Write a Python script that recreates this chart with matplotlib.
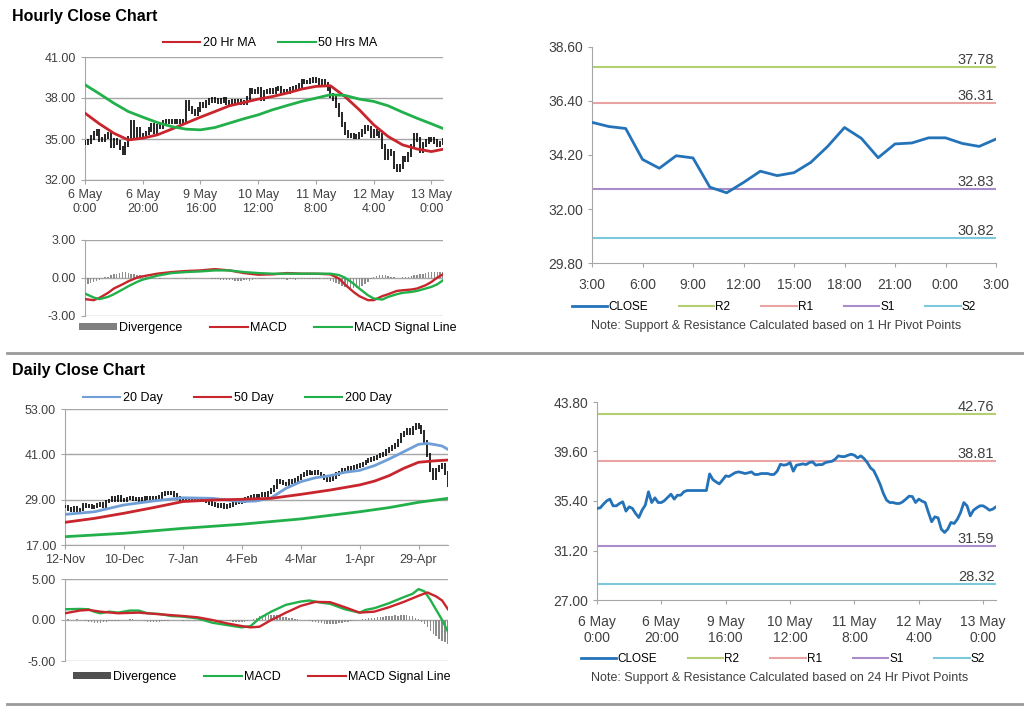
import matplotlib
matplotlib.use("Agg")
import matplotlib.pyplot as plt
from matplotlib.patches import Patch
from matplotlib.lines import Line2D
import numpy as np

plt.rcParams['font.family'] = ['Liberation Sans', 'DejaVu Sans']

# ---------------- hourly data ----------------
hourly_ticks = ["6 May\n0:00", "6 May\n20:00", "9 May\n16:00", "10 May\n12:00",
                "11 May\n8:00", "12 May\n4:00", "13 May\n0:00"]
hourly_close = [34.77, 34.82, 35.13, 35.41, 35.56, 34.99, 34.99, 35.19, 35.33, 34.54,
                34.91, 34.77, 34.34, 34.00, 34.62, 35.05, 36.18, 35.27, 35.67, 35.27,
                35.27, 35.44, 35.72, 35.98, 35.56, 35.89, 35.89, 36.18, 36.29, 36.29,
                36.29, 36.29, 36.29, 36.29, 36.29, 37.70, 37.22, 37.02, 36.85, 37.17,
                37.53, 37.48, 37.65, 37.81, 37.87, 37.81, 37.73, 37.79, 37.87, 37.65,
                37.65, 37.73, 37.73, 37.73, 37.65, 37.65, 37.93, 38.52, 38.44, 38.49,
                38.66, 37.93, 38.44, 38.49, 38.55, 38.49, 38.66, 38.72, 38.44, 38.49,
                38.49, 38.66, 38.72, 38.77, 38.94, 39.23, 39.17, 39.17, 39.28, 39.37,
                39.28, 39.06, 39.23, 39.00, 38.66, 38.21, 37.98, 37.42, 36.80, 36.04,
                35.47, 35.27, 35.27, 35.19, 35.19, 35.33, 35.56, 35.81, 35.78, 35.27,
                35.56, 35.39, 35.27, 34.43, 33.64, 34.06, 33.97, 33.01, 32.73, 33.01,
                33.58, 33.49, 33.86, 34.43, 35.27, 34.99, 34.14, 34.62, 34.82, 34.99,
                34.99, 34.82, 34.62, 34.71, 34.91]

ma_idx = [0, 5, 10, 15, 20, 25, 30, 35, 40, 45, 50, 55, 60, 65, 70, 75, 80, 85,
          90, 95, 100, 105, 110, 115, 120, 124]
ma20_hr = [36.89, 36.11, 35.42, 34.93, 35.06, 35.30, 35.72, 36.16, 36.60, 37.01,
           37.43, 37.67, 37.92, 38.11, 38.36, 38.65, 38.85, 38.90, 38.11, 37.14,
           36.04, 35.18, 34.57, 34.27, 34.08, 34.25]
ma50_hr = [38.97, 38.31, 37.62, 37.01, 36.60, 36.21, 35.91, 35.72, 35.67, 35.84,
           36.16, 36.48, 36.77, 37.14, 37.45, 37.75, 37.99, 38.24, 38.19, 37.92,
           37.75, 37.43, 36.96, 36.52, 36.11, 35.77]

macd_hr_idx = [0, 3, 5, 8, 10, 13, 15, 18, 20, 25, 30, 35, 40, 45, 50, 55, 60, 65,
               70, 75, 80, 85, 88, 90, 93, 95, 98, 100, 103, 105, 108, 110, 113,
               115, 118, 120, 122, 124]
macd_hr = [-1.67, -1.75, -1.57, -1.17, -0.83, -0.50, -0.26, 0.03, 0.13, 0.34, 0.47,
           0.55, 0.60, 0.70, 0.60, 0.39, 0.26, 0.29, 0.39, 0.34, 0.34, 0.29, -0.05,
           -0.50, -1.10, -1.43, -1.75, -1.75, -1.43, -1.28, -1.02, -0.97, -0.91,
           -0.83, -0.57, -0.31, 0.03, 0.29]
signal_hr = [-1.23, -1.54, -1.67, -1.49, -1.28, -0.91, -0.65, -0.31, -0.13, 0.18,
             0.39, 0.47, 0.52, 0.60, 0.60, 0.47, 0.39, 0.34, 0.34, 0.34, 0.34, 0.34,
             0.23, 0.03, -0.44, -0.83, -1.36, -1.62, -1.70, -1.49, -1.28, -1.17,
             -1.10, -1.02, -0.83, -0.70, -0.50, -0.18]
diverg_hr = [-0.5, -0.45, -0.4, -0.3, -0.2, -0.15, -0.1, 0.05, 0.1, 0.2,
             0.3, 0.35, 0.4, 0.45, 0.45, 0.4, 0.35, 0.3, 0.25, 0.2,
             0.15, 0.1, 0.05, 0.05, 0.0, 0.0, -0.05, 0.0, 0.02, 0.0,
             0.0, -0.05, -0.05, 0.0, 0.0, -0.1, 0.0, 0.02, 0.0, -0.02,
             0.0, 0.0, 0.02, 0.0, -0.05, -0.1, -0.1, -0.12, -0.15, -0.15,
             -0.12, -0.15, -0.2, -0.2, -0.2, -0.18, -0.15, -0.2, -0.15, -0.1,
             -0.1, -0.1, -0.05, 0.0, 0.02, 0.0, -0.05, -0.1, -0.1, -0.1,
             -0.12, -0.1, -0.1, -0.12, -0.1, -0.1, -0.1, -0.08, -0.1, -0.05,
             -0.05, -0.05, 0.0, -0.05, -0.1, -0.2, -0.3, -0.4, -0.5, -0.6,
             -0.7, -0.75, -0.8, -0.8, -0.75, -0.7, -0.6, -0.5, -0.3, -0.1,
             0.05, 0.15, 0.2, 0.25, 0.2, 0.15, 0.1, 0.05, 0.0, 0.0,
             0.05, 0.05, 0.1, 0.15, 0.2, 0.25, 0.3, 0.35, 0.4, 0.45,
             0.45, 0.5, 0.5, 0.45, 0.45]

# 1 hr pivot chart
pivot_hr_ticks = ["3:00", "6:00", "9:00", "12:00", "15:00", "18:00", "21:00", "0:00", "3:00"]
close_1h = [35.53, 35.36, 35.28, 34.02, 33.66, 34.17, 34.08, 32.89, 32.66, 33.08,
            33.54, 33.36, 33.48, 33.90, 34.55, 35.32, 34.88, 34.09, 34.65, 34.69,
            34.90, 34.90, 34.67, 34.55, 34.85]
pivots_1h = {"R2": 37.78, "R1": 36.31, "S1": 32.83, "S2": 30.82}
pivots_24h = {"R2": 42.76, "R1": 38.81, "S1": 31.59, "S2": 28.32}
pivot_colors = {"R2": "#b3cf72", "R1": "#e9a3a3", "S1": "#a98cc9", "S2": "#7cc8dc"}

# ---------------- daily data ----------------
daily_ticks = ["12-Nov", "10-Dec", "7-Jan", "4-Feb", "4-Mar", "1-Apr", "29-Apr"]
daily_close = [27.2, 26.6, 26.3, 26.9, 25.8, 26.4, 27.6, 27.2, 27.4, 27.0,
               27.2, 27.5, 27.8, 27.3, 28.5, 28.8, 29.4, 29.0, 29.8, 28.9,
               28.9, 29.3, 29.5, 29.1, 29.2, 28.9, 29.2, 29.4, 29.4, 29.1,
               29.4, 29.6, 29.8, 30.4, 30.7, 30.9, 30.7, 30.2, 29.4, 29.0,
               28.9, 29.2, 28.9, 29.3, 29.2, 28.8, 28.9, 29.0, 28.7, 28.2,
               27.8, 27.5, 27.3, 27.6, 27.1, 27.4, 27.6, 28.2, 28.5, 28.3,
               28.7, 29.1, 29.4, 29.8, 30.1, 29.9, 30.1, 30.4, 30.2, 30.9,
               31.6, 32.4, 33.9, 33.6, 33.3, 33.0, 33.9, 33.7, 34.2, 34.8,
               35.4, 35.7, 36.3, 36.1, 36.0, 36.4, 35.9, 35.2, 34.7, 34.3,
               34.5, 35.1, 35.7, 36.2, 36.9, 36.7, 37.3, 37.1, 37.7, 37.9,
               38.2, 38.6, 39.1, 39.4, 39.8, 40.1, 40.4, 40.9, 41.0, 41.8,
               42.4, 42.9, 43.5, 44.6, 46.1, 46.6, 47.4, 46.5, 47.9, 48.8,
               48.3, 47.0, 44.2, 40.8, 36.9, 34.7, 36.9, 37.7, 38.2, 36.0,
               32.9]

ma20_d_idx = [0, 10, 20, 30, 40, 50, 55, 60, 65, 70, 75, 80, 85, 90, 95, 100, 105,
              110, 115, 120, 123, 126, 128, 130]
ma20_d = [25.1, 25.8, 27.6, 28.65, 29.5, 29.35, 28.9, 28.5, 28.65, 29.5, 32.0, 33.75,
          34.8, 35.35, 36.25, 36.75, 38.0, 39.75, 41.7, 43.65, 43.9, 43.5, 43.2, 42.3]
ma50_d_idx = [0, 10, 20, 30, 40, 50, 60, 70, 80, 90, 100, 105, 110, 115, 120, 125, 130]
ma50_d = [23.0, 24.05, 25.4, 26.9, 28.5, 28.9, 29.1, 29.35, 30.4, 31.55, 32.9, 33.9,
          35.35, 37.3, 38.9, 39.25, 39.5]
ma200_d_idx = [0, 20, 40, 60, 80, 100, 110, 120, 130]
ma200_d = [19.2, 20.1, 21.4, 22.5, 23.9, 25.8, 26.9, 28.3, 29.35]

macd_d_idx = [0, 5, 8, 10, 12, 15, 18, 22, 25, 28, 32, 36, 40, 45, 50, 55, 60, 63,
              66, 70, 75, 80, 83, 86, 90, 95, 100, 102, 105, 110, 115, 118, 120,
              122, 124, 126, 128, 130]
macd_d = [1.31, 1.35, 1.31, 1.0, 0.82, 1.02, 0.9, 1.15, 1.15, 0.82, 0.74, 0.49,
          0.41, 0.2, -0.33, -0.62, -0.9, -0.74, 0.2, 1.02, 1.85, 2.25, 2.38, 2.17,
          1.97, 1.31, 0.9, 1.23, 1.44, 2.05, 2.79, 3.2, 3.77, 3.49, 2.46, 1.23, 0.0,
          -1.44]
signal_d_idx = [0, 5, 8, 12, 18, 25, 32, 40, 45, 50, 55, 60, 63, 66, 70, 75, 80, 85,
                90, 95, 100, 105, 110, 115, 120, 123, 126, 128, 130]
signal_d = [0.82, 1.15, 1.23, 1.02, 0.82, 0.9, 0.7, 0.49, 0.33, 0.0, -0.41, -0.74,
            -0.9, -0.82, 0.0, 0.9, 1.72, 2.21, 2.17, 1.56, 0.9, 1.02, 1.56, 2.21,
            2.95, 3.36, 2.87, 2.38, 1.31]
diverg_d = [0.2, 0.1, 0.0, 0.05, 0.1, 0.05, 0.0, -0.1, -0.2, -0.3,
            -0.4, -0.4, -0.35, -0.3, -0.2, -0.15, -0.1, -0.1, -0.1, -0.05,
            -0.05, 0.05, 0.1, 0.1, 0.05, 0.0, -0.05, -0.1, -0.2, -0.3,
            -0.3, -0.25, -0.2, -0.15, -0.1, -0.1, -0.05, 0.0, -0.05, -0.05,
            -0.1, -0.05, -0.1, -0.05, -0.1, -0.05, -0.1, -0.1, -0.05, -0.1,
            -0.1, -0.05, -0.1, -0.1, -0.05, -0.1, -0.15, -0.2, -0.25, -0.3,
            -0.25, -0.2, -0.1, 0.0, 0.15, 0.3, 0.45, 0.55, 0.6, 0.65,
            0.6, 0.55, 0.6, 0.5, 0.4, 0.35, 0.3, 0.2, 0.15, 0.1,
            0.05, 0.0, -0.05, -0.1, -0.2, -0.3, -0.35, -0.4, -0.45, -0.5,
            -0.45, -0.5, -0.45, -0.4, -0.35, -0.3, -0.2, -0.15, -0.1, -0.05,
            0.05, 0.1, 0.15, 0.2, 0.25, 0.3, 0.35, 0.4, 0.4, 0.45,
            0.5, 0.5, 0.55, 0.5, 0.55, 0.6, 0.55, 0.5, 0.45, 0.3,
            0.1, -0.2, -0.5, -0.9, -1.3, -1.7, -2.0, -2.3, -2.5, -2.7,
            -2.9]

RED = "#c8252c"
GREEN = "#22b04b"
BLUE_MA = "#6f9fd6"
CLOSE_BLUE = "#2473b9"
TXT = "#404040"
GRID = "#a6a6a6"
FS = 9


def style_axes(ax, grid=True):
    for s in ['top', 'right']:
        ax.spines[s].set_visible(False)
    ax.spines['left'].set_color(GRID)
    ax.spines['bottom'].set_color(GRID)
    ax.tick_params(colors=GRID, labelcolor=TXT, labelsize=FS, length=3)
    if grid:
        ax.yaxis.grid(True, color=GRID, lw=1)
        ax.set_axisbelow(True)


def draw_bars(ax, close, wick):
    x = np.arange(len(close))
    c = np.array(close)
    o = np.concatenate([[c[0]], c[:-1]])
    hi = np.maximum(o, c) + wick
    lo = np.minimum(o, c) - wick
    ax.vlines(x, lo, hi, color='black', lw=1.2, zorder=3)


fig = plt.figure(figsize=(10.24, 7.06), dpi=100)

fig.text(12 / 1024, 1 - 16 / 706, "Hourly Close Chart", fontsize=11.5, fontweight='bold',
         va='center', ha='left')
fig.text(12 / 1024, 1 - 370 / 706, "Daily Close Chart", fontsize=11.5, fontweight='bold',
         va='center', ha='left')
fig.add_artist(Line2D([7 / 1024, 1], [1 - 353 / 706] * 2, color='#9a9a9a', lw=2))
fig.add_artist(Line2D([7 / 1024, 1], [1 - 704 / 706] * 2, color='#9a9a9a', lw=2))

# ---- hourly price ----
ax1 = fig.add_axes([85 / 1024, 1 - 180 / 706, 358 / 1024, 123 / 706])
draw_bars(ax1, hourly_close, 0.18)
ax1.plot(ma_idx, ma20_hr, color=RED, lw=2, zorder=4)
ax1.plot(ma_idx, ma50_hr, color=GREEN, lw=2, zorder=4)
ax1.set_ylim(32, 41)
ax1.set_yticks([32, 35, 38, 41])
ax1.set_yticklabels([f"{v:.2f}" for v in [32, 35, 38, 41]])
ax1.set_xlim(0, 124)
ax1.set_xticks(range(0, 121, 20))
ax1.set_xticklabels(hourly_ticks)
style_axes(ax1)
fig.legend(handles=[Line2D([], [], color=RED, lw=1.5, label="20 Hr MA"),
                    Line2D([], [], color=GREEN, lw=1.5, label="50 Hrs MA")],
           loc='center', bbox_to_anchor=(270 / 1024, 1 - 43 / 706), ncol=2, frameon=False,
           fontsize=FS, handlelength=3, columnspacing=1.8, handletextpad=0.2)

# ---- hourly MACD ----
ax2 = fig.add_axes([85 / 1024, 1 - 316 / 706, 358 / 1024, 76 / 706])
ax2.bar(range(len(diverg_hr)), diverg_hr, width=0.5, color='#8c8c8c', zorder=2)
ax2.plot(macd_hr_idx, macd_hr, color=RED, lw=1.7, zorder=3)
ax2.plot(macd_hr_idx, signal_hr, color=GREEN, lw=1.7, zorder=3)
ax2.axhline(0, color=GRID, lw=1, zorder=1)
ax2.set_ylim(-3, 3)
ax2.set_yticks([-3, 0, 3])
ax2.set_yticklabels(["-3.00", "0.00", "3.00"])
ax2.set_xlim(0, 124)
ax2.set_xticks([])
style_axes(ax2, grid=False)
ax2.spines['bottom'].set_visible(False)
ax2.axhline(3, color=GRID, lw=1)
ax2.axhline(-3, color=GRID, lw=1)
fig.legend(handles=[Patch(facecolor='#808080', label="Divergence"),
                    Line2D([], [], color=RED, lw=1.5, label="MACD"),
                    Line2D([], [], color=GREEN, lw=1.5, label="MACD Signal Line")],
           loc='center', bbox_to_anchor=(268 / 1024, 1 - 328 / 706), ncol=3, frameon=False,
           fontsize=FS, handlelength=3, columnspacing=2.2, handletextpad=0.2,
           handleheight=0.5)

# ---- pivot charts ----
def pivot_chart(ax, x, close, pivots, label_x):
    ax.plot(x, close, color=CLOSE_BLUE, lw=2, zorder=3, label="CLOSE")
    for k, v in pivots.items():
        ax.axhline(v, color=pivot_colors[k], lw=1.5, zorder=2, label=k)
        ax.text(label_x, v, f"{v:.2f}", ha='right', va='bottom', fontsize=10.5,
                color=TXT)
    style_axes(ax, grid=False)
    ax.tick_params(labelsize=10)


ax3 = fig.add_axes([592 / 1024, 1 - 263 / 706, 404 / 1024, 216 / 706])
pivot_chart(ax3, range(len(close_1h)), close_1h, pivots_1h, 23.9)
ax3.set_ylim(29.8, 38.6)
ax3.set_yticks([29.8, 32.0, 34.2, 36.4, 38.6])
ax3.set_yticklabels([f"{v:.2f}" for v in [29.8, 32.0, 34.2, 36.4, 38.6]])
ax3.set_xlim(0, 24)
ax3.set_xticks(range(0, 25, 3))
ax3.set_xticklabels(pivot_hr_ticks)
ax3.tick_params(axis='x', pad=8)
fig.legend(*ax3.get_legend_handles_labels(), loc='center',
           bbox_to_anchor=(774 / 1024, 1 - 307 / 706), ncol=5, frameon=False,
           fontsize=8.5, handlelength=3, columnspacing=2.6, handletextpad=0.1)
fig.text(776 / 1024, 1 - 326 / 706,
         "Note: Support & Resistance Calculated based on 1 Hr Pivot Points",
         ha='center', va='center', fontsize=9, color=TXT)

# ---- daily price ----
ax4 = fig.add_axes([65 / 1024, 1 - 545 / 706, 383 / 1024, 136 / 706])
draw_bars(ax4, daily_close, 0.5)
ax4.plot(ma20_d_idx, ma20_d, color=BLUE_MA, lw=2, zorder=4)
ax4.plot(ma50_d_idx, ma50_d, color=RED, lw=2, zorder=4)
ax4.plot(ma200_d_idx, ma200_d, color=GREEN, lw=2, zorder=4)
ax4.set_ylim(17, 53)
ax4.set_yticks([17, 29, 41, 53])
ax4.set_yticklabels([f"{v:.2f}" for v in [17, 29, 41, 53]])
ax4.set_xlim(0, 130)
ax4.set_xticks(range(0, 121, 20))
ax4.set_xticklabels(daily_ticks)
style_axes(ax4)
fig.legend(handles=[Line2D([], [], color=BLUE_MA, lw=1.5, label="20 Day"),
                    Line2D([], [], color=RED, lw=1.5, label="50 Day"),
                    Line2D([], [], color=GREEN, lw=1.5, label="200 Day")],
           loc='center', bbox_to_anchor=(237 / 1024, 1 - 398 / 706), ncol=3, frameon=False,
           fontsize=FS, handlelength=3, columnspacing=2.5, handletextpad=0.2)

# ---- daily MACD ----
ax5 = fig.add_axes([65 / 1024, 1 - 661 / 706, 383 / 1024, 82 / 706])
ax5.bar(range(len(diverg_d)), diverg_d, width=0.5, color='#8c8c8c', zorder=2)
ax5.plot(macd_d_idx, macd_d, color=GREEN, lw=1.7, zorder=3)
ax5.plot(signal_d_idx, signal_d, color=RED, lw=1.7, zorder=3)
ax5.axhline(0, color=GRID, lw=1, zorder=1)
ax5.set_ylim(-5, 5)
ax5.set_yticks([-5, 0, 5])
ax5.set_yticklabels(["-5.00", "0.00", "5.00"])
ax5.set_xlim(0, 130)
ax5.set_xticks([])
style_axes(ax5, grid=False)
ax5.spines['bottom'].set_visible(False)
ax5.axhline(5, color=GRID, lw=1)
ax5.axhline(-5, color=GRID, lw=1)
fig.legend(handles=[Patch(facecolor='#505050', label="Divergence"),
                    Line2D([], [], color=GREEN, lw=1.5, label="MACD"),
                    Line2D([], [], color=RED, lw=1.5, label="MACD Signal Line")],
           loc='center', bbox_to_anchor=(262 / 1024, 1 - 677 / 706), ncol=3, frameon=False,
           fontsize=FS, handlelength=3, columnspacing=2.2, handletextpad=0.2,
           handleheight=0.5)

# ---- 24 hr pivot chart ----
ax6 = fig.add_axes([597 / 1024, 1 - 600 / 706, 399 / 1024, 198 / 706])
pivot_chart(ax6, range(len(hourly_close)), hourly_close, pivots_24h, 123.5)
ax6.set_ylim(27.0, 43.8)
ax6.set_yticks([27.0, 31.2, 35.4, 39.6, 43.8])
ax6.set_yticklabels([f"{v:.2f}" for v in [27.0, 31.2, 35.4, 39.6, 43.8]])
ax6.set_xlim(0, 124)
ax6.set_xticks(range(0, 121, 20))
ax6.set_xticklabels(hourly_ticks)
ax6.tick_params(axis='x', pad=8)
fig.legend(*ax6.get_legend_handles_labels(), loc='center',
           bbox_to_anchor=(783 / 1024, 1 - 659 / 706), ncol=5, frameon=False,
           fontsize=8.5, handlelength=3, columnspacing=2.6, handletextpad=0.1)
fig.text(780 / 1024, 1 - 678 / 706,
         "Note: Support & Resistance Calculated based on 24 Hr Pivot Points",
         ha='center', va='center', fontsize=9, color=TXT)

fig.savefig("out.png", dpi=100)
